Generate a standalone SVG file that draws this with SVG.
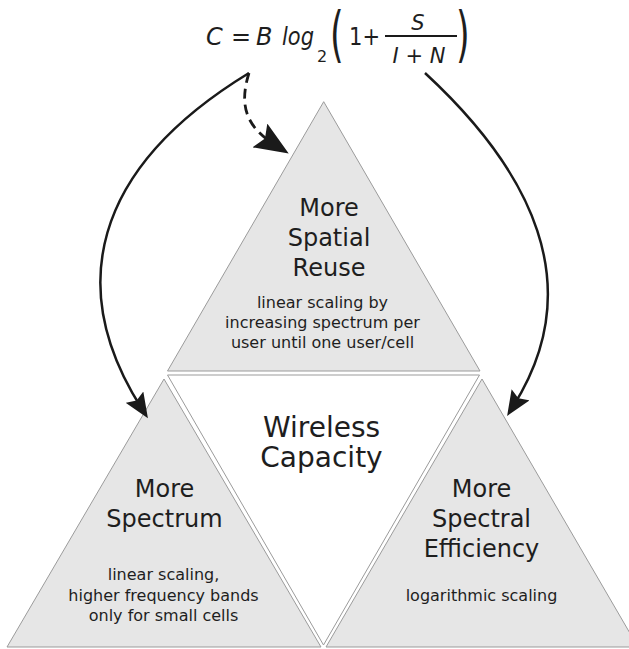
<svg xmlns="http://www.w3.org/2000/svg" width="629" height="649" viewBox="0 0 629 649">
<defs>
<style>
.tri{fill:#e6e6e6;stroke:#9b9b9b;stroke-width:1}
.hole{fill:#ffffff;stroke:#9b9b9b;stroke-width:1}
.lbl{font-family:'DejaVu Sans',Verdana,sans-serif;fill:#1e1e1e;text-anchor:middle}
.big{font-size:24px}
.small{font-size:16px}
.center{font-size:28px}
.eq{font-family:'DejaVu Sans',Verdana,sans-serif;fill:#1e1e1e}
.it{font-style:italic}
.conn{fill:none;stroke:#1a1a1a;stroke-width:2.5}
.dash{stroke-width:2.8;stroke-dasharray:10 6}
</style>
<marker id="head" viewBox="0 0 25 21" refX="14" refY="10.5" markerWidth="25" markerHeight="21" markerUnits="userSpaceOnUse" orient="auto">
<path d="M0,0 L25,10.5 L0,21 L4,10.5 z" fill="#1a1a1a"/>
</marker>
<marker id="headBig" viewBox="0 0 34 28" refX="19" refY="14" markerWidth="34" markerHeight="28" markerUnits="userSpaceOnUse" orient="auto">
<path d="M0,0 L34,14 L0,28 L6,14 z" fill="#1a1a1a"/>
</marker>
</defs>

<g id="formula" class="eq">
<text x="206" y="45" font-size="24" class="it">C</text>
<text x="231" y="45" font-size="24">=</text>
<text x="256" y="45" font-size="24" class="it">B</text>
<text x="282" y="45" font-size="24" class="it" textLength="32" lengthAdjust="spacingAndGlyphs">log</text>
<text x="317" y="62" font-size="16">2</text>
<text transform="translate(330,54.8) scale(1.25,2.15)" font-size="28">(</text>
<text x="349" y="45" font-size="24" textLength="31" lengthAdjust="spacingAndGlyphs">1+</text>
<line x1="385" y1="36" x2="457" y2="36" stroke="#1a1a1a" stroke-width="1.8"/>
<text x="418" y="30" font-size="21" class="it" text-anchor="middle">S</text>
<text x="419" y="63" font-size="21" class="it" text-anchor="middle">I + N</text>
<text transform="translate(456,54.8) scale(1.25,2.15)" font-size="28">)</text>
</g>

<g id="spatial-reuse">
<polygon class="tri" points="323.7,101.7 480,371 167.5,371"/>
<text class="lbl big" x="329" y="216">More</text>
<text class="lbl big" x="329" y="246">Spatial</text>
<text class="lbl big" x="329" y="276">Reuse</text>
<text class="lbl small" x="322.5" y="308">linear scaling by</text>
<text class="lbl small" x="322.5" y="328">increasing spectrum per</text>
<text class="lbl small" x="322.5" y="348">user until one user/cell</text>
</g>

<g id="wireless-capacity">
<polygon class="hole" points="167.5,375 479.5,375 323.5,645"/>
<text class="lbl center" x="321.5" y="437">Wireless</text>
<text class="lbl center" x="321.5" y="467">Capacity</text>
</g>

<g id="more-spectrum">
<polygon class="tri" points="164,379 321,647 7,647"/>
<text class="lbl big" x="164.5" y="496.5">More</text>
<text class="lbl big" x="164.5" y="526.5">Spectrum</text>
<text class="lbl small" x="163.5" y="580">linear scaling,</text>
<text class="lbl small" x="163.5" y="600.5">higher frequency bands</text>
<text class="lbl small" x="163.5" y="620.5">only for small cells</text>
</g>

<g id="spectral-efficiency">
<polygon class="tri" points="482,379 638,647 326,647"/>
<text class="lbl big" x="481.5" y="496.5">More</text>
<text class="lbl big" x="481.5" y="526.5">Spectral</text>
<text class="lbl big" x="481.5" y="556.5">Efficiency</text>
<text class="lbl small" x="481.5" y="601">logarithmic scaling</text>
</g>

<g id="connectors">
<path class="conn" d="M249,73 C90,170 66,290 142,409" marker-end="url(#head)"/>
<path class="conn" d="M425,73 C530,170 590,285 513,406.6" marker-end="url(#head)"/>
<path class="conn dash" d="M249,73 C238,108 248,128 276,145.5" marker-end="url(#headBig)"/>
</g>
</svg>
